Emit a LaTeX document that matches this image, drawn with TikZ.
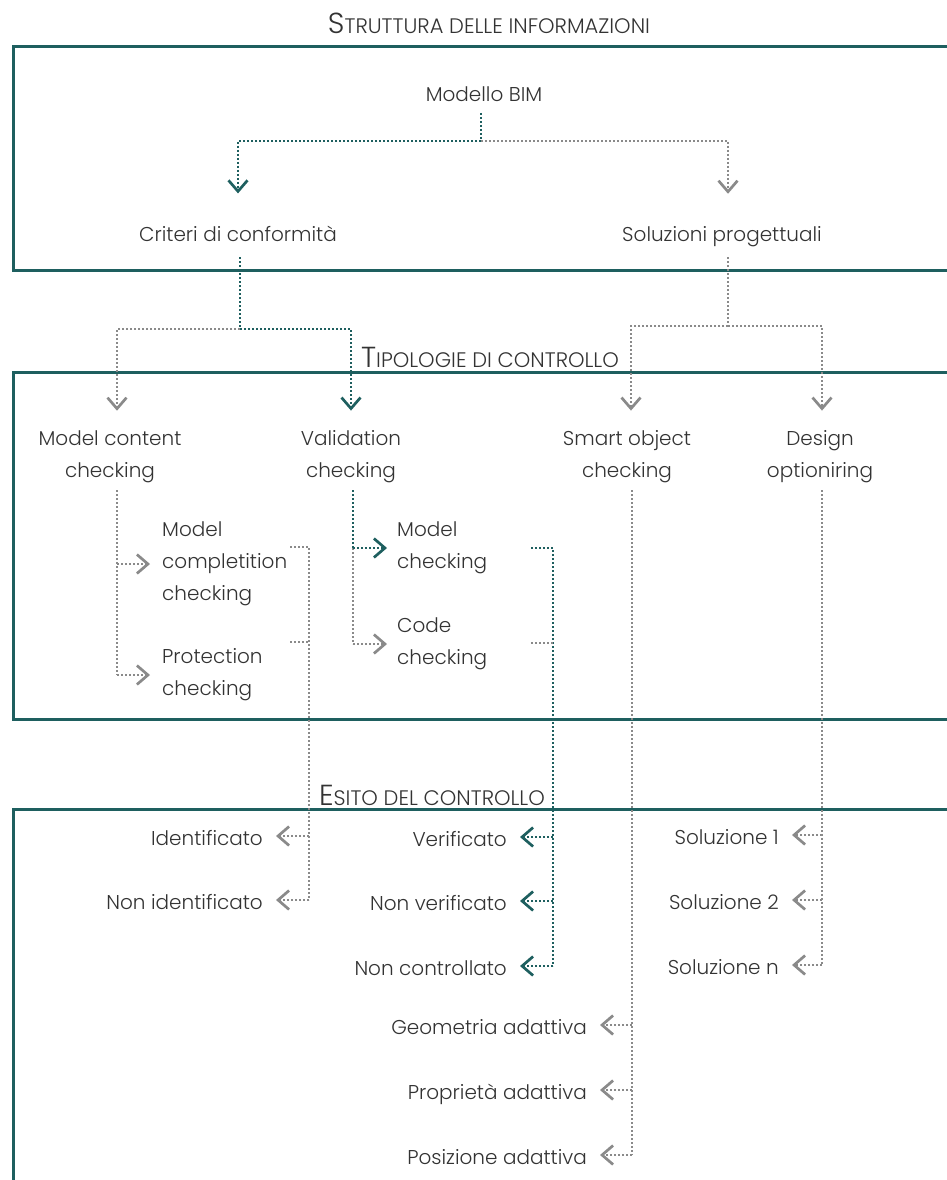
\documentclass[tikz,border=0pt]{standalone}
\usepackage{fontspec}
\IfFontExistsTF{Poppins Light}{\setmainfont{Poppins Light}}{\setmainfont{Poppins}}
\usetikzlibrary{arrows.meta}
\definecolor{petrol}{HTML}{1E5F5F}
\definecolor{dotgray}{HTML}{8A8A8A}
\definecolor{ink}{HTML}{333333}

% fake small caps for the section headings
\newcommand\capsA[1]{{\fontsize{29}{29}\selectfont #1}}
\newcommand\capsB[1]{{\fontsize{21}{21}\selectfont #1}}

\begin{document}
\begin{tikzpicture}[x=1pt,y=-1pt,
  frame/.style={draw=petrol, line width=3pt},
  lbl/.style={text=ink, font=\fontsize{20}{32}\selectfont, inner sep=0pt},
  single/.style={lbl, anchor=base},
  multi/.style={lbl, align=center},
  lmulti/.style={lbl, align=left, anchor=west},
  outcome/.style={lbl, anchor=east, inner xsep=13pt, text height=18pt, text depth=0pt},
  heading/.style={text=ink, inner sep=0pt, anchor=base},
  dotline/.style={line width=1.8pt, dash pattern=on 1.8pt off 2.2pt},
  tline/.style={dotline, draw=petrol},
  gline/.style={dotline, draw=dotgray},
  chev/.style={-{Straight Barb[length=11pt,width=19pt,line width=2.7pt]}},
  tarrow/.style={tline, chev},
  garrow/.style={gline, chev},
]
\useasboundingbox (0,0) rectangle (947,1180);

% frames, open on the right
\draw[frame] (950,47) -- (13,47) -- (13,270) -- (950,270);
\draw[frame] (950,372) -- (13,372) -- (13,719) -- (950,719);
\draw[frame] (950,809) -- (13,809) -- (13,1185);

% headings
\node[heading] (h1) at (489,34) {\capsA{S}\capsB{TRUTTURA DELLE INFORMAZIONI}};
\node[heading] (h2) at (490,367) {\capsA{T}\capsB{IPOLOGIE DI CONTROLLO}};
\node[heading] (h3) at (432,805) {\capsA{E}\capsB{SITO DEL CONTROLLO}};

% information structure
\node[single] (bim) at (484,102) {Modello BIM};
\node[single] (crit) at (238,241) {Criteri di conformità};
\node[single] (sol) at (722,241) {Soluzioni progettuali};

% control types
\node[multi] (mcc) at (110,457) {Model content\\checking};
\node[multi] (val) at (351,457) {Validation\\checking};
\node[multi] (smart) at (627,457) {Smart object\\checking};
\node[multi] (des) at (820,457) {Design\\optioniring};

\node[lmulti] (comp) at (162,564) {Model\\completition\\checking};
\node[lmulti] (prot) at (162,675) {Protection\\checking};
\node[lmulti] (mch) at (397,548) {Model\\checking};
\node[lmulti] (code) at (397,644) {Code\\checking};

% outcomes
\node[outcome] (ident) at (276,836) {Identificato};
\node[outcome] (nid) at (276,900) {Non identificato};
\node[outcome] (ver) at (520,837) {Verificato};
\node[outcome] (nver) at (520,901) {Non verificato};
\node[outcome] (nctl) at (520,966) {Non controllato};
\node[outcome] (s1) at (792,835) {Soluzione 1};
\node[outcome] (s2) at (792,900) {Soluzione 2};
\node[outcome] (sn) at (792,965) {Soluzione n};
\node[outcome] (geo) at (600,1025) {Geometria adattiva};
\node[outcome] (prop) at (600,1090) {Proprietà adattiva};
\node[outcome] (pos) at (600,1155) {Posizione adattiva};

% BIM model -> criteria / solutions
\coordinate (j1) at (481,141);
\draw[tline] ([yshift=-11pt]bim.base -| j1) -- (j1);
\draw[tarrow] (j1) -| ([yshift=32pt]crit.north);
\draw[garrow] (j1) -| ([xshift=6pt,yshift=32pt]sol.north);

% criteria -> control types
\coordinate (j2) at (240,329);
\draw[tline] ([yshift=-16pt]crit.base -| j2) -- (j2);
\draw[garrow] (j2) -| ([xshift=7pt,yshift=20pt]mcc.north);
\draw[tarrow] (j2) -| ([yshift=20pt]val.north);

% solutions -> control types
\coordinate (j3) at (728,326);
\draw[gline] ([yshift=-16pt]sol.base -| j3) -- (j3);
\draw[garrow] (j3) -| ([xshift=4pt,yshift=20pt]smart.north);
\draw[garrow] (j3) -| ([xshift=2pt,yshift=20pt]des.north);

% model content checking branches
\coordinate (m1) at ([xshift=7pt,yshift=-7pt]mcc.south);
\draw[gline] (m1) -- (m1 |- prot.west);
\draw[garrow] (m1 |- comp.west) -- ([xshift=-12pt]comp.west);
\draw[garrow] (m1 |- prot.west) -- ([xshift=-12pt]prot.west);

% validation checking branches
\coordinate (m2) at ([xshift=2pt,yshift=-7pt]val.south);
\draw[tline] (m2) -- (m2 |- mch.west);
\draw[gline] (m2 |- mch.west) -- (m2 |- code.west);
\draw[tarrow] (m2 |- mch.west) -- ([xshift=-10pt]mch.west);
\draw[garrow] (m2 |- code.west) -- ([xshift=-10pt]code.west);

% completion / protection -> identified
\coordinate (b1) at (290,547);
\coordinate (b2) at (290,642);
\coordinate (r1) at (309,547);
\draw[gline] (b1) -- (r1) -- (r1 |- nid.east);
\draw[gline] (b2) -- (b2 -| r1);
\draw[garrow] (r1 |- ident.east) -- (ident.east);
\draw[garrow] (r1 |- nid.east) -- (nid.east);

% model / code checking -> verified
\coordinate (b3) at (531,548);
\coordinate (b4) at (531,643);
\coordinate (r2) at (553,548);
\draw[tline] (b3) -- (r2) -- (r2 |- nctl.east);
\draw[gline] (b4) -- (b4 -| r2);
\draw[tarrow] (r2 |- ver.east) -- (ver.east);
\draw[tarrow] (r2 |- nver.east) -- (nver.east);
\draw[tarrow] (r2 |- nctl.east) -- (nctl.east);

% smart object checking -> adaptive results
\coordinate (m3) at ([xshift=5pt,yshift=-7pt]smart.south);
\draw[gline] (m3) -- (m3 |- pos.east);
\draw[garrow] (m3 |- geo.east) -- (geo.east);
\draw[garrow] (m3 |- prop.east) -- (prop.east);
\draw[garrow] (m3 |- pos.east) -- (pos.east);

% design optioneering -> solutions
\coordinate (m4) at ([xshift=2pt,yshift=-7pt]des.south);
\draw[gline] (m4) -- (m4 |- sn.east);
\draw[garrow] (m4 |- s1.east) -- (s1.east);
\draw[garrow] (m4 |- s2.east) -- (s2.east);
\draw[garrow] (m4 |- sn.east) -- (sn.east);
\end{tikzpicture}
\end{document}
